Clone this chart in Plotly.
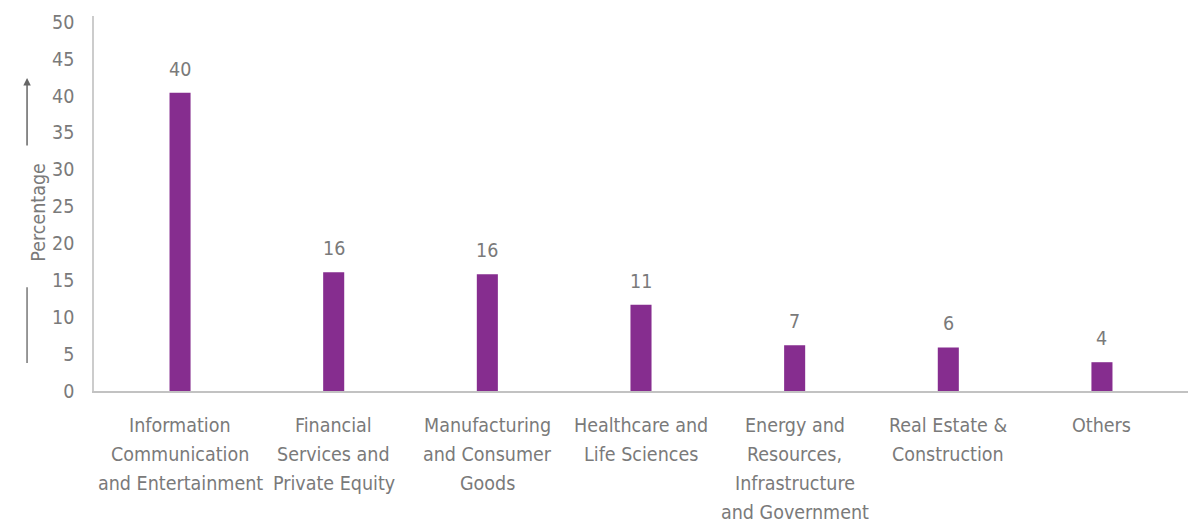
import plotly.graph_objects as go

categories = [
    "Information<br>Communication<br>and Entertainment",
    "Financial<br>Services and<br>Private Equity",
    "Manufacturing<br>and Consumer<br>Goods",
    "Healthcare and<br>Life Sciences",
    "Energy and<br>Resources,<br>Infrastructure<br>and Government",
    "Real Estate &<br>Construction",
    "Others",
]
values = [40.4, 16.1, 15.8, 11.7, 6.2, 5.9, 3.9]
value_labels = ["40", "16", "16", "11", "7", "6", "4"]
y_ticks = [0, 5, 10, 15, 20, 25, 30, 35, 40, 45, 50]

FONT = "Liberation Sans Narrow, Arial Narrow, DejaVu Sans Condensed, sans-serif"
FS = 19.5
GREY = "#7a7a7a"

fig = go.Figure()
fig.add_trace(go.Bar(
    x=categories, y=values,
    marker=dict(color="#862D8F", line=dict(width=0)),
    width=0.137,
    hoverinfo="skip",
))

# value labels above bars
for c, v, t in zip(categories, values, value_labels):
    fig.add_annotation(x=c, y=v, text=t, showarrow=False, xref="x", yref="y",
                       yanchor="bottom", yshift=10,
                       font=dict(family=FONT, size=FS, color=GREY))

# category labels, one line at a time for the wider line spacing
for c in categories:
    for i, line in enumerate(c.split("<br>")):
        fig.add_annotation(x=c, y=0, text=line, showarrow=False, xref="x", yref="paper",
                           yanchor="middle", yshift=-(34 + 29.3 * i), borderpad=0,
                           font=dict(family=FONT, size=FS, color=GREY))

fig.update_layout(
    width=1191, height=525,
    margin=dict(l=94, r=3, t=16, b=134, autoexpand=False),
    paper_bgcolor="white", plot_bgcolor="white",
    showlegend=False,
    font=dict(family=FONT, size=FS, color=GREY),
    xaxis=dict(
        range=[-0.56, 6.56],
        showline=True, linecolor="#c2c2c2", linewidth=2,
        showgrid=False, zeroline=False, ticks="",
        showticklabels=False, automargin=False,
        fixedrange=True,
    ),
    yaxis=dict(
        range=[0, 50.8],
        tickvals=y_ticks,
        showline=True, linecolor="#cccccc", linewidth=1.5,
        showgrid=False, zeroline=False, ticks="",
        tickfont=dict(family=FONT, size=FS, color=GREY),
        ticklabelstandoff=14, automargin=False,
        fixedrange=True,
    ),
)

# y-axis title with arrow decoration
fig.add_annotation(x=-0.063, y=0.477, xref="paper", yref="paper", text="Percentage",
                   textangle=-90, showarrow=False,
                   font=dict(family=FONT, size=FS, color=GREY))
fig.add_annotation(x=-0.0612, y=0.835, xref="paper", yref="paper", text="",
                   showarrow=True, ax=0, ay=69, axref="pixel", ayref="pixel",
                   arrowhead=2, arrowsize=1, arrowwidth=1.5, arrowcolor="#666666")
fig.add_shape(type="line", xref="paper", yref="paper",
              x0=-0.0612, x1=-0.0612, y0=0.075, y1=0.277,
              line=dict(color="#777777", width=1.5))

fig.write_html("out.html")
